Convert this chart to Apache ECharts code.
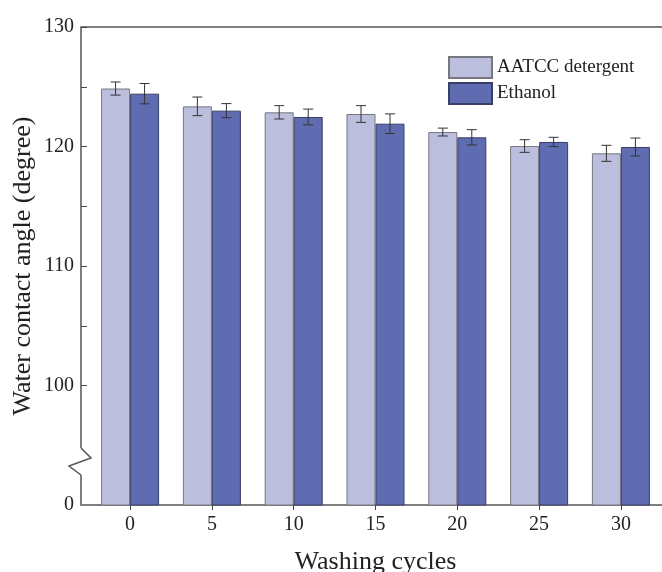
<!DOCTYPE html>
<html><head><meta charset="utf-8">
<script src="https://cdn.jsdelivr.net/npm/echarts@6/dist/echarts.min.js"></script>
<style>html,body{margin:0;padding:0;background:#fff}#c{width:662px;height:572px}</style>
</head><body><div id="c"></div>
<script>
const cycles = [0, 5, 10, 15, 20, 25, 30];
const aatcc = [124.85, 123.36, 122.86, 122.72, 121.21, 120.04, 119.43];
const aatccErr = [0.55, 0.78, 0.56, 0.70, 0.33, 0.53, 0.67];
const ethanol = [124.42, 123.0, 122.47, 121.91, 120.77, 120.38, 119.96];
const ethanolErr = [0.85, 0.59, 0.66, 0.82, 0.64, 0.39, 0.75];
const yTicks = [100, 105, 110, 115, 120, 125, 130];
const yLabels = [90, 100, 110, 120, 130];
const FONT = 'Liberation Serif';
const BW = 29;

const chart = echarts.init(document.getElementById('c'), null, {renderer: 'canvas'});

function errSeries(vals, errs, side) {
  return {
    type: 'custom',
    z: 5,
    silent: true,
    data: cycles.map((c, i) => [c, vals[i], errs[i]]),
    renderItem: function (params, api) {
      const x = api.value(0), v = api.value(1), e = api.value(2);
      const p1 = api.coord([x, v + e]);
      const p2 = api.coord([x, v - e]);
      const cx = p1[0] + side * BW / 2;
      const hw = 5;
      const st = {stroke: '#333', lineWidth: 1, fill: null};
      return {type: 'group', children: [
        {type: 'line', shape: {x1: cx, y1: p1[1], x2: cx, y2: p2[1]}, style: st},
        {type: 'line', shape: {x1: cx - hw, y1: p1[1], x2: cx + hw, y2: p1[1]}, style: st},
        {type: 'line', shape: {x1: cx - hw, y1: p2[1], x2: cx + hw, y2: p2[1]}, style: st}
      ]};
    }
  };
}

chart.setOption({
  animation: false,
  grid: {left: 81, top: 27, width: 589, height: 478, outerBoundsMode: 'none', containLabel: false,
    show: true, borderColor: '#555', borderWidth: 1.5, backgroundColor: 'transparent'},
  legend: {
    orient: 'vertical', left: 448, top: 56, padding: 0, itemWidth: 43, itemHeight: 21, itemGap: 3,
    icon: 'rect',
    textStyle: {fontFamily: FONT, fontSize: 19, color: '#222'},
    data: ['AATCC detergent', 'Ethanol']
  },
  xAxis: {
    type: 'value', min: -3, max: 33,
    name: 'Washing cycles', nameLocation: 'middle', nameGap: 44,
    nameTextStyle: {fontFamily: FONT, fontSize: 26, color: '#222'},
    axisLine: {show: false, onZero: false},
    splitLine: {show: false},
    axisTick: {show: true, inside: false, length: 5, customValues: cycles, lineStyle: {color: '#444'}},
    axisLabel: {customValues: cycles, fontFamily: FONT, fontSize: 20, color: '#222', margin: 10}
  },
  yAxis: {
    type: 'value', min: 90, max: 130,
    name: 'Water contact angle (degree)', nameLocation: 'middle', nameGap: 45, nameMoveOverlap: false,
    nameTextStyle: {fontFamily: FONT, fontSize: 26, color: '#222'},
    axisLine: {show: false, onZero: false},
    splitLine: {show: false},
    axisTick: {show: true, inside: true, length: 6, customValues: yTicks, lineStyle: {color: '#444'}},
    axisLabel: {customValues: yLabels, fontFamily: FONT, fontSize: 20, color: '#222', margin: 7,
      formatter: v => (v === 90 ? '0' : String(v))}
  },
  series: [
    {name: 'AATCC detergent', type: 'bar', barWidth: BW, barGap: '0%',
      itemStyle: {color: '#bcbedd', borderColor: '#77777f', borderWidth: 1},
      data: cycles.map((c, i) => [c, aatcc[i]])},
    {name: 'Ethanol', type: 'bar', barWidth: BW, barGap: '0%',
      itemStyle: {color: '#5f6cb2', borderColor: '#3a3f66', borderWidth: 1},
      data: cycles.map((c, i) => [c, ethanol[i]])},
    errSeries(aatcc, aatccErr, -1),
    errSeries(ethanol, ethanolErr, 1)
  ]
});

// axis break marker
const base = chart.convertToPixel({gridIndex: 0}, [-3, 90]);
const bx = base[0], by = base[1];
chart.setOption({
  graphic: [
    {type: 'rect', z: 100, shape: {x: bx - 3, y: by - 57, width: 6, height: 27}, style: {fill: '#fff'}},
    {type: 'polyline', z: 101, shape: {points: [[bx, by - 57], [bx + 10, by - 47], [bx - 12, by - 39], [bx, by - 30]]},
      style: {stroke: '#555', lineWidth: 1.5, fill: null}}
  ]
});
</script></body></html>
